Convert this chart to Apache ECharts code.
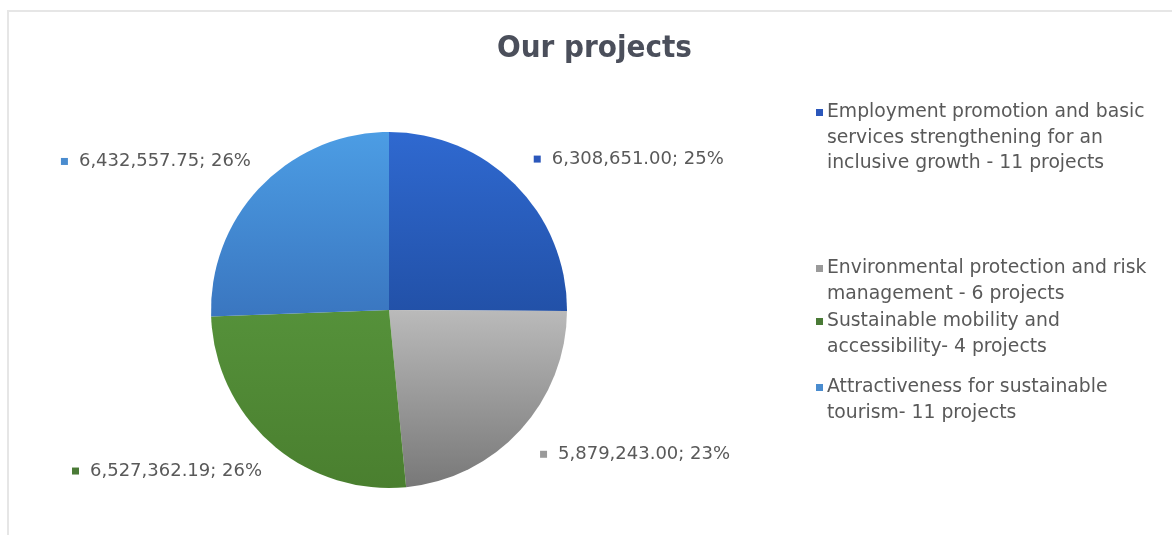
<!DOCTYPE html>
<html>
<head>
<meta charset="utf-8">
<script src="https://cdn.jsdelivr.net/npm/echarts@6/dist/echarts.min.js"></script>
<style>
html,body{margin:0;padding:0;background:#fff;overflow:hidden;width:1172px;height:535px}
#frame{position:absolute;left:7px;top:10px;width:1300px;height:700px;border-left:2px solid #e6e6e6;border-top:2px solid #e6e6e6;}
#chart{position:absolute;left:0;top:0;width:1172px;height:535px}
</style>
</head>
<body>
<div id="frame"></div>
<div id="chart"></div>
<script>
// ---- data ----
const categories = [
  'Employment promotion and basic services strengthening for an inclusive growth - 11 projects',
  'Environmental protection and risk management - 6 projects',
  'Sustainable mobility and accessibility- 4 projects',
  'Attractiveness for sustainable tourism- 11 projects'
];
const values = [6308651.00, 5879243.00, 6527362.19, 6432557.75];
const legendLines = [
  ['Employment promotion and basic', 'services strengthening for an', 'inclusive growth - 11 projects'],
  ['Environmental protection and risk', 'management - 6 projects'],
  ['Sustainable mobility and', 'accessibility- 4 projects'],
  ['Attractiveness for sustainable', 'tourism- 11 projects']
];
const titleText = 'Our projects';

// ---- styles ----
const sliceTop = ['#2f69d0', '#bababa', '#55913a', '#4c9de4'];
const sliceBottom = ['#2251a8', '#787878', '#4a7f2f', '#3a76c0'];
const markerColors = ['#2b57bb', '#9a9a9a', '#4a7a36', '#4a8ccf'];
const labelShift = [-12, -12, -19, -21];
const legendTops = [103, 259, 312, 378];
const FONT = 'DejaVu Sans';
const TEXT = '#595959';

const chart = echarts.init(document.getElementById('chart'), null, {renderer: 'canvas'});

const labelRich = {
  g: {width: 11},
  v: {fontFamily: FONT, fontSize: 18, color: TEXT}
};
markerColors.forEach((c, i) => { labelRich['m' + i] = {width: 7, height: 7, backgroundColor: c}; });

const data = categories.map((name, i) => ({
  name: name,
  value: values[i],
  labelLine: {show: false, length: 36, length2: labelShift[i]},
  itemStyle: {
    color: {
      type: 'linear', x: 0, y: 0, x2: 0, y2: 1,
      colorStops: [{offset: 0, color: sliceTop[i]}, {offset: 1, color: sliceBottom[i]}]
    }
  }
}));

const legends = categories.map((name, i) => ({
  data: [name],
  orient: 'vertical',
  left: 811,
  top: legendTops[i],
  padding: 0,
  icon: 'rect',
  itemWidth: 0,
  itemHeight: 0,
  selectedMode: false,
  formatter: function (n) {
    const idx = categories.indexOf(n);
    return legendLines[idx].map((line, k) =>
      (k === 0 ? '{m|}{g|}' : '{i|}') + '{t|' + line + '}'
    ).join('\n');
  },
  textStyle: {
    rich: {
      m: {width: 7, height: 7, backgroundColor: markerColors[i]},
      g: {width: 4},
      i: {width: 11},
      t: {fontFamily: FONT, fontSize: 18.8, color: TEXT, lineHeight: 25.5}
    }
  }
}));

chart.setOption({
  animation: false,
  backgroundColor: 'transparent',
  title: {
    text: titleText,
    left: 497,
    top: 33,
    padding: 0,
    textStyle: {fontFamily: '"DejaVu Sans Condensed", "DejaVu Sans"', fontSize: 31, fontWeight: 'bold', color: '#4b4f5b'}
  },
  legend: legends,
  series: [{
    type: 'pie',
    center: [389, 310],
    radius: 178,
    startAngle: 90,
    clockwise: true,
    avoidLabelOverlap: false,
    emphasis: {disabled: true},
    label: {
      show: true,
      position: 'outside',
      distanceToLabelLine: 5,
      formatter: function (p) {
        const v = p.value.toLocaleString('en-US', {minimumFractionDigits: 2, maximumFractionDigits: 2});
        return '{m' + p.dataIndex + '|}{g|}{v|' + v + '; ' + Math.round(p.percent) + '%}';
      },
      rich: labelRich
    },
    labelLine: {show: false, length: 36, length2: -12},
    data: data
  }]
});
</script>
</body>
</html>
